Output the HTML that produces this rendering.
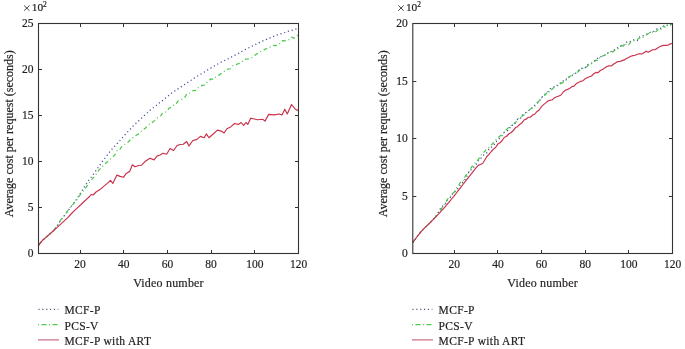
<!DOCTYPE html>
<html><head><meta charset="utf-8"><style>
html,body{margin:0;padding:0;background:#fff;width:685px;height:349px;overflow:hidden}
svg{display:block;filter:blur(0.3px)}
text{font-family:"Liberation Serif", serif;fill:#231f20;stroke:#231f20;stroke-width:0.2px}
.t{font-size:11.5px}
.s{font-size:7.5px}
.m{font-size:11.4px}
.l{font-size:12px;letter-spacing:0.2px}
.y{font-size:12px}
.g{font-size:11.5px;letter-spacing:0.35px}
</style></head><body>
<svg width="685" height="349" viewBox="0 0 685 349">
<path d="M38.5 245.3L40.7 242.5L42.9 240.1L45.0 238.2L47.2 236.3L49.4 234.4L51.6 232.4L53.8 230.4L55.9 227.3L58.1 224.1L60.3 220.9L62.5 218.2L64.7 215.3L66.8 212.3L69.0 209.3L71.2 206.4L73.4 203.6L75.6 200.6L77.7 197.5L79.9 194.1L82.1 190.5L84.3 186.9L86.5 183.6L88.6 180.5L90.8 177.7L93.0 174.7L95.2 171.7L97.4 168.6L99.5 165.5L101.7 162.5L103.9 159.5L106.1 156.5L108.3 153.6L110.4 150.9L112.6 148.4L114.8 146.1L117.0 143.8L119.2 141.4L121.3 138.9L123.5 136.4L125.7 134.0L127.9 131.6L130.1 129.3L132.2 127.0L134.4 124.8L136.6 122.8L138.8 120.8L141.0 118.8L143.1 116.6L145.3 114.5L147.5 112.6L149.7 110.7L151.9 108.9L154.0 107.2L156.2 105.5L158.4 103.7L160.6 102.0L162.8 100.3L164.9 98.5L167.1 96.7L169.3 95.0L171.5 93.3L173.7 91.7L175.8 90.3L178.0 88.9L180.2 87.4L182.4 86.0L184.6 84.6L186.7 83.1L188.9 81.6L191.1 80.2L193.3 78.7L195.5 77.3L197.6 76.0L199.8 74.7L202.0 73.4L204.2 72.1L206.4 70.8L208.5 69.4L210.7 68.1L212.9 66.8L215.1 65.5L217.3 64.2L219.4 63.1L221.6 61.9L223.8 60.9L226.0 59.8L228.2 58.7L230.3 57.6L232.5 56.5L234.7 55.4L236.9 54.2L239.1 53.0L241.2 51.8L243.4 50.6L245.6 49.4L247.8 48.3L250.0 47.2L252.1 46.1L254.3 45.0L256.5 43.9L258.7 42.9L260.9 41.8L263.0 40.8L265.2 39.9L267.4 39.0L269.6 38.1L271.8 37.2L273.9 36.3L276.1 35.4L278.3 34.6L280.5 33.9L282.7 33.2L284.8 32.5L287.0 31.7L289.2 31.0L291.4 30.4L293.6 29.8L295.7 29.1L297.9 28.4L298.5 28.1" stroke="#4c4c9c" stroke-width="1.25" fill="none" stroke-dasharray="1.2 2.7"/>
<path d="M38.5 245.3L40.7 242.5L42.9 240.1L45.0 238.2L47.2 236.3L49.4 234.4L51.6 232.4L53.8 230.4L55.9 227.1L58.1 225.1L60.3 220.5L62.5 217.7L64.7 215.1L66.8 212.1L69.0 208.9L71.2 206.2L73.4 203.9L75.6 200.8L77.7 198.6L79.9 195.1L82.1 192.2L84.3 190.1L86.5 186.8L88.6 183.5L90.8 180.7L93.0 178.1L95.2 175.8L97.4 172.0L99.5 169.4L101.7 167.7L103.9 164.6L106.1 162.8L108.3 161.4L110.4 159.1L112.6 156.8L114.8 154.9L117.0 150.8L119.2 150.4L121.3 147.2L123.5 144.9L125.7 144.0L127.9 142.3L130.1 140.0L132.2 138.0L134.4 136.8L136.6 135.0L138.8 133.8L141.0 131.6L143.1 129.5L145.3 128.2L147.5 125.9L149.7 123.8L151.9 122.9L154.0 121.1L156.2 119.0L158.4 117.0L160.6 115.8L162.8 112.7L164.9 112.6L167.1 110.8L169.3 108.0L171.5 107.2L173.7 105.0L175.8 104.2L178.0 101.1L180.2 100.0L182.4 99.1L184.6 97.6L186.7 94.3L188.9 93.6L191.1 92.5L193.3 90.6L195.5 90.4L197.6 87.8L199.8 87.4L202.0 85.4L204.2 85.1L206.4 82.9L208.5 81.1L210.7 79.0L212.9 79.3L215.1 77.4L217.3 76.0L219.4 74.9L221.6 73.3L223.8 71.6L226.0 70.3L228.2 69.0L230.3 68.8L232.5 66.0L234.7 65.2L236.9 64.2L239.1 63.4L241.2 62.5L243.4 60.5L245.6 59.2L247.8 59.0L250.0 58.6L252.1 57.3L254.3 55.7L256.5 54.0L258.7 52.9L260.9 51.5L263.0 51.0L265.2 49.1L267.4 48.4L269.6 47.2L271.8 46.5L273.9 45.3L276.1 45.6L278.3 44.2L280.5 43.3L282.7 40.7L284.8 40.8L287.0 39.9L289.2 39.6L291.4 37.2L293.6 38.1L295.7 37.2L297.9 35.1L298.5 35.0" stroke="#44c844" stroke-width="1.2" fill="none" stroke-dasharray="4 2.8 1 2.8"/>
<path d="M38.5 245.3L40.5 242.6L42.5 240.3L46.9 236.6L52.3 231.8L57.8 226.9L63.2 221.9L68.0 217.4L72.0 213.0L76.0 209.1L81.0 204.5L84.1 201.5L86.0 199.8L89.5 196.5L91.1 194.5L93.1 195.0L96.0 192.0L100.0 189.6L104.0 186.1L107.9 182.9L110.5 180.3L112.8 183.5L116.9 175.1L120.1 176.4L123.4 177.3L125.9 173.8L129.8 171.3L132.4 164.8L135.0 166.8L138.8 165.5L141.4 165.3L145.0 161.6L150.0 158.3L154.0 159.9L157.0 156.1L160.0 155.0L163.1 153.3L166.6 154.2L170.1 148.5L173.6 150.5L177.1 145.5L180.0 144.5L183.3 144.3L186.7 141.5L189.0 145.9L192.8 140.5L196.6 139.6L200.4 136.4L204.2 137.7L206.4 133.9L208.9 137.7L212.7 134.5L217.4 130.1L221.2 131.1L224.1 133.0L226.9 128.8L230.7 126.9L234.5 123.5L238.3 124.4L241.2 122.5L243.6 125.4L245.9 122.5L247.8 124.4L250.7 118.2L253.5 118.7L257.3 119.7L263.0 119.3L264.9 121.2L268.7 114.4L274.4 114.9L279.1 114.0L282.0 114.9L284.8 109.2L287.3 114.0L291.5 104.5L295.3 109.2L298.5 110.6" stroke="#c9304a" stroke-width="1.15" fill="none" stroke-linejoin="round"/>
<path d="M412.8 242.4L415.0 239.5L417.2 236.5L419.3 233.8L421.5 231.2L423.7 228.9L425.9 226.7L428.1 224.6L430.2 222.5L432.4 220.4L434.6 218.0L436.8 214.9L439.0 211.2L441.1 207.3L443.3 205.6L445.5 203.7L447.7 199.6L449.9 197.9L452.0 194.4L454.2 192.6L456.4 189.5L458.6 187.9L460.8 184.1L462.9 182.3L465.1 179.1L467.3 175.7L469.5 170.7L471.7 169.4L473.8 167.0L476.0 164.6L478.2 160.7L480.4 159.0L482.6 156.1L484.7 153.8L486.9 152.8L489.1 149.0L491.3 147.2L493.5 145.7L495.6 142.2L497.8 140.1L500.0 137.9L502.2 135.6L504.4 132.3L506.5 131.2L508.7 130.0L510.9 125.5L513.1 125.2L515.3 122.3L517.4 119.4L519.6 119.4L521.8 116.5L524.0 113.2L526.2 112.5L528.3 111.2L530.5 108.8L532.7 107.6L534.9 105.0L537.1 103.3L539.2 101.5L541.4 97.4L543.6 95.9L545.8 93.2L548.0 91.7L550.1 88.8L552.3 87.8L554.5 86.7L556.7 86.2L558.9 85.1L561.0 81.8L563.2 80.9L565.4 80.6L567.6 77.0L569.8 76.7L571.9 75.3L574.1 74.7L576.3 72.7L578.5 70.4L580.7 69.0L582.8 67.8L585.0 67.9L587.2 65.0L589.4 63.8L591.6 63.0L593.7 61.3L595.9 59.9L598.1 57.8L600.3 57.2L602.5 55.4L604.6 55.4L606.8 53.8L609.0 52.1L611.2 51.5L613.4 49.6L615.5 49.6L617.7 47.7L619.9 47.1L622.1 44.6L624.3 44.9L626.4 42.3L628.6 41.1L630.8 41.5L633.0 40.0L635.2 39.8L637.3 40.5L639.5 37.0L641.7 36.1L643.9 35.7L646.1 34.9L648.2 33.3L650.4 32.3L652.6 32.1L654.8 31.0L657.0 28.9L659.1 28.8L661.3 28.0L663.5 26.2L665.7 26.4L667.9 24.6L670.0 25.1L672.2 23.6L672.5 23.4" stroke="#4c4c9c" stroke-width="1.25" fill="none" stroke-dasharray="1.2 2.7"/>
<path d="M412.8 242.4L415.0 239.5L417.2 236.5L419.3 233.8L421.5 231.2L423.7 228.9L425.9 226.7L428.1 224.6L430.2 222.5L432.4 220.4L434.6 217.9L436.8 215.2L439.0 211.1L441.1 209.6L443.3 205.7L445.5 202.4L447.7 198.9L449.9 197.6L452.0 193.6L454.2 192.3L456.4 188.2L458.6 185.7L460.8 181.5L462.9 181.2L465.1 176.4L467.3 173.1L469.5 170.8L471.7 166.7L473.8 165.1L476.0 161.2L478.2 159.8L480.4 156.2L482.6 153.1L484.7 151.5L486.9 148.5L489.1 147.5L491.3 144.8L493.5 142.8L495.6 140.3L497.8 137.8L500.0 136.0L502.2 134.6L504.4 131.8L506.5 129.5L508.7 127.4L510.9 126.0L513.1 123.6L515.3 123.4L517.4 119.3L519.6 117.5L521.8 116.2L524.0 115.1L526.2 112.8L528.3 110.6L530.5 108.9L532.7 107.4L534.9 106.2L537.1 102.6L539.2 100.8L541.4 98.0L543.6 96.4L545.8 94.3L548.0 91.1L550.1 92.0L552.3 88.8L554.5 87.0L556.7 85.4L558.9 84.5L561.0 83.4L563.2 82.4L565.4 80.6L567.6 79.5L569.8 76.4L571.9 75.4L574.1 73.5L576.3 72.7L578.5 71.5L580.7 68.8L582.8 68.3L585.0 67.7L587.2 66.5L589.4 63.7L591.6 63.6L593.7 62.1L595.9 60.2L598.1 60.5L600.3 56.9L602.5 56.1L604.6 55.3L606.8 53.9L609.0 52.5L611.2 52.4L613.4 51.4L615.5 49.9L617.7 48.9L619.9 47.1L622.1 45.3L624.3 46.7L626.4 43.5L628.6 44.8L630.8 42.1L633.0 41.4L635.2 40.1L637.3 39.8L639.5 37.8L641.7 38.4L643.9 36.4L646.1 35.1L648.2 33.5L650.4 33.1L652.6 32.0L654.8 32.4L657.0 30.9L659.1 28.3L661.3 29.5L663.5 25.9L665.7 27.8L667.9 24.5L670.0 24.9L672.2 24.5L672.5 23.8" stroke="#44c844" stroke-width="1.2" fill="none" stroke-dasharray="4 2.8 1 2.8"/>
<path d="M412.8 242.4L415.0 239.5L417.2 236.5L419.3 233.8L421.5 231.2L423.7 228.9L425.9 226.7L428.1 224.6L430.2 222.5L432.4 220.4L434.6 218.2L436.8 215.9L439.0 213.6L441.1 211.2L443.3 208.8L445.5 206.3L447.7 203.7L449.9 201.2L452.0 198.5L454.2 195.8L456.4 193.0L458.6 190.2L460.8 187.3L462.9 184.5L465.1 181.6L467.3 178.8L469.5 176.1L471.7 173.4L473.8 170.6L476.0 167.9L478.2 165.4L480.4 164.5L482.6 163.5L484.7 160.3L486.9 156.5L489.1 154.1L491.3 151.5L493.5 149.1L495.6 147.5L497.8 144.1L500.0 142.8L502.2 140.5L504.4 137.2L506.5 136.5L508.7 134.0L510.9 132.7L513.1 130.8L515.3 127.8L517.4 126.7L519.6 124.5L521.8 123.1L524.0 120.0L526.2 119.1L528.3 117.2L530.5 117.2L532.7 115.0L534.9 114.0L537.1 111.4L539.2 110.0L541.4 106.7L543.6 104.6L545.8 102.9L548.0 100.9L550.1 100.2L552.3 99.9L554.5 97.7L556.7 96.7L558.9 96.0L561.0 95.0L563.2 92.0L565.4 90.3L567.6 89.4L569.8 88.2L571.9 86.6L574.1 86.1L576.3 83.6L578.5 82.4L580.7 81.2L582.8 80.9L585.0 78.8L587.2 77.7L589.4 76.8L591.6 76.0L593.7 73.7L595.9 72.4L598.1 72.6L600.3 70.5L602.5 69.4L604.6 68.1L606.8 66.5L609.0 65.9L611.2 66.0L613.4 64.3L615.5 62.9L617.7 61.6L619.9 61.5L622.1 60.6L624.3 59.9L626.4 58.6L628.6 57.5L630.8 56.3L633.0 55.6L635.2 55.2L637.3 54.2L639.5 53.7L641.7 54.0L643.9 52.8L646.1 51.2L648.2 52.3L650.4 51.0L652.6 49.7L654.8 49.8L657.0 48.4L659.1 47.1L661.3 46.1L663.5 45.3L665.7 45.4L667.9 45.3L670.0 43.9L672.2 43.5L672.5 44.1" stroke="#c9304a" stroke-width="1.15" fill="none" stroke-linejoin="round"/>
<rect x="38.5" y="23.5" width="260.0" height="230.0" fill="none" stroke="#333333" stroke-width="1.1"/>
<path d="M80.5 253.5v-3.5M80.5 23.5v3.5M123.5 253.5v-3.5M123.5 23.5v3.5M167.5 253.5v-3.5M167.5 23.5v3.5M211.5 253.5v-3.5M211.5 23.5v3.5M254.5 253.5v-3.5M254.5 23.5v3.5M38.5 207.5h3.5M298.5 207.5h-3.5M38.5 161.5h3.5M298.5 161.5h-3.5M38.5 115.5h3.5M298.5 115.5h-3.5M38.5 69.5h3.5M298.5 69.5h-3.5" stroke="#333333" stroke-width="1" fill="none"/>
<text x="33.5" y="257.0" text-anchor="end" class="t">0</text>
<text x="33.5" y="211.0" text-anchor="end" class="t">5</text>
<text x="33.5" y="165.0" text-anchor="end" class="t">10</text>
<text x="33.5" y="119.0" text-anchor="end" class="t">15</text>
<text x="33.5" y="73.0" text-anchor="end" class="t">20</text>
<text x="33.5" y="26.6" text-anchor="end" class="t">25</text>
<text x="80.0" y="268.0" text-anchor="middle" class="t">20</text>
<text x="123.7" y="268.0" text-anchor="middle" class="t">40</text>
<text x="167.4" y="268.0" text-anchor="middle" class="t">60</text>
<text x="211.1" y="268.0" text-anchor="middle" class="t">80</text>
<text x="254.8" y="268.0" text-anchor="middle" class="t">100</text>
<text x="298.5" y="268.0" text-anchor="middle" class="t">120</text>
<text x="168.5" y="286.5" text-anchor="middle" class="l">Video number</text>
<text transform="translate(13.0 133.8) rotate(-90)" text-anchor="middle" class="y">Average cost per request (seconds)</text>
<path d="M24.1 5.5L29.5 10.7M29.5 5.5L24.1 10.7" stroke="#231f20" stroke-width="0.85" fill="none"/>
<text x="31.7" y="11.4" class="m">10</text><text x="43.1" y="7.0" class="s">2</text>
<rect x="412.8" y="23.5" width="259.7" height="230.0" fill="none" stroke="#333333" stroke-width="1.1"/>
<path d="M454.5 253.5v-3.5M454.5 23.5v3.5M497.5 253.5v-3.5M497.5 23.5v3.5M541.5 253.5v-3.5M541.5 23.5v3.5M585.5 253.5v-3.5M585.5 23.5v3.5M628.5 253.5v-3.5M628.5 23.5v3.5M412.8 196.5h3.5M672.5 196.5h-3.5M412.8 138.5h3.5M672.5 138.5h-3.5M412.8 81.5h3.5M672.5 81.5h-3.5" stroke="#333333" stroke-width="1" fill="none"/>
<text x="407.8" y="257.0" text-anchor="end" class="t">0</text>
<text x="407.8" y="199.5" text-anchor="end" class="t">5</text>
<text x="407.8" y="142.0" text-anchor="end" class="t">10</text>
<text x="407.8" y="84.5" text-anchor="end" class="t">15</text>
<text x="407.8" y="26.6" text-anchor="end" class="t">20</text>
<text x="454.3" y="268.0" text-anchor="middle" class="t">20</text>
<text x="497.9" y="268.0" text-anchor="middle" class="t">40</text>
<text x="541.6" y="268.0" text-anchor="middle" class="t">60</text>
<text x="585.2" y="268.0" text-anchor="middle" class="t">80</text>
<text x="628.9" y="268.0" text-anchor="middle" class="t">100</text>
<text x="672.5" y="268.0" text-anchor="middle" class="t">120</text>
<text x="542.6" y="286.5" text-anchor="middle" class="l">Video number</text>
<text transform="translate(387.0 133.8) rotate(-90)" text-anchor="middle" class="y">Average cost per request (seconds)</text>
<path d="M398.3 5.5L403.7 10.7M403.7 5.5L398.3 10.7" stroke="#231f20" stroke-width="0.85" fill="none"/>
<text x="405.9" y="11.4" class="m">10</text><text x="417.3" y="7.0" class="s">2</text>
<path d="M38.4 309.4h20" stroke="#5a5a80" stroke-width="1.2" stroke-dasharray="1.2 2.66"/>
<path d="M38 324.7h21" stroke="#4ccb4c" stroke-width="1.2" stroke-dasharray="1 2.5 5 2.5"/>
<path d="M38 339.9h21" stroke="#c05068" stroke-width="1.0"/>
<text x="64.4" y="314.3" class="g">MCF-P</text>
<text x="64.4" y="329.6" class="g">PCS-V</text>
<text x="64.4" y="344.6" class="g">MCF-P with ART</text>
<path d="M412.4 309.4h20" stroke="#5a5a80" stroke-width="1.2" stroke-dasharray="1.2 2.66"/>
<path d="M412 324.7h21" stroke="#4ccb4c" stroke-width="1.2" stroke-dasharray="1 2.5 5 2.5"/>
<path d="M412 339.9h21" stroke="#c05068" stroke-width="1.0"/>
<text x="438.6" y="314.3" class="g">MCF-P</text>
<text x="438.6" y="329.6" class="g">PCS-V</text>
<text x="438.6" y="344.6" class="g">MCF-P with ART</text>
</svg>
</body></html>
